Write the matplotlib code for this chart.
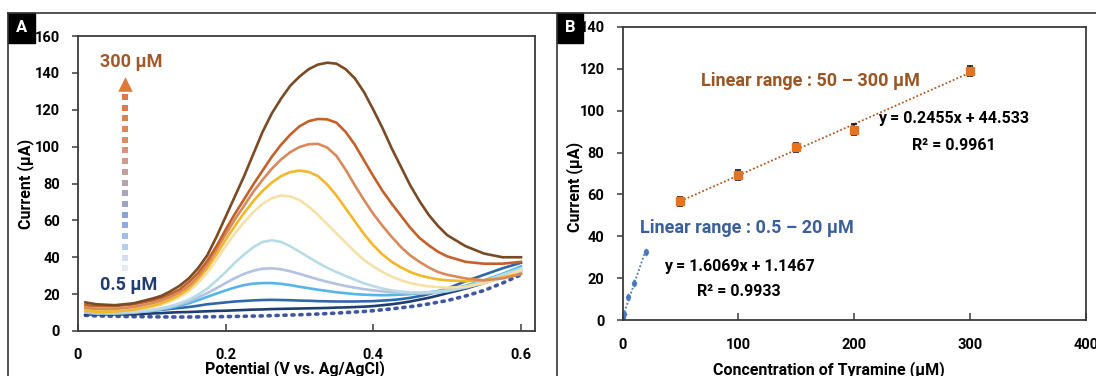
import matplotlib.pyplot as plt
from matplotlib.patches import Rectangle
from matplotlib.lines import Line2D

# ---- panel A: DPV curves (potential in V, current in uA) ----
potential = [0.01, 0.025, 0.05, 0.075, 0.1, 0.1125, 0.125, 0.1375, 0.15, 0.1625, 0.175,
             0.1875, 0.2, 0.2125, 0.225, 0.2375, 0.25, 0.2625, 0.275, 0.2875, 0.3, 0.3125,
             0.325, 0.3375, 0.35, 0.3625, 0.375, 0.3875, 0.4, 0.4125, 0.425, 0.4375, 0.45,
             0.4625, 0.475, 0.4875, 0.5, 0.525, 0.55, 0.575, 0.6]

blank = [8.5, 8.2, 8, 7.8, 7.7, 7.65, 7.6, 7.6, 7.6, 7.65, 7.7, 7.75, 7.8, 7.9, 8, 8.1, 8.2,
         8.35, 8.5, 8.65, 8.8, 9, 9.2, 9.45, 9.7, 10, 10.3, 10.6, 11, 11.5, 12, 12.6, 13.2,
         13.9, 14.7, 15.6, 16.5, 19, 22, 26, 30.5]
c_05 = [9, 9, 9, 9, 9.5, 9.7, 10, 10.2, 10.3, 10.5, 10.7, 10.9, 11, 11.2, 11.4, 11.6, 11.7,
        11.9, 12, 12.1, 12.2, 12.3, 12.4, 12.5, 12.7, 12.8, 13, 13.2, 13.5, 14, 14.5, 15.2,
        16, 17, 18, 19.2, 20.5, 23, 26, 29.5, 33]
c_1 = [10.5, 10.5, 10.5, 10.5, 11, 11.5, 12, 12.5, 13, 13.7, 14.5, 15, 15.5, 16, 16.3, 16.6,
       16.8, 16.9, 16.8, 16.7, 16.5, 16.4, 16.2, 16.1, 16, 16, 16, 16.1, 16.2, 16.5, 16.8,
       17.3, 18, 18.9, 20, 21.4, 23, 27, 30.5, 34, 37]
c_5 = [10, 9.5, 9.5, 10, 11, 11.7, 12.5, 13.7, 15, 16.7, 18.5, 20.3, 22, 23.6, 24.9, 25.7, 26,
       26, 25.6, 24.9, 24, 23.2, 22.4, 21.7, 21, 20.5, 20, 19.7, 19.5, 19.4, 19.5, 19.7, 20,
       20.4, 21, 21.7, 22.5, 24.5, 27.5, 31, 35]
c_10 = [10, 9.5, 9.5, 10, 11, 11.9, 13, 14.4, 16, 18.2, 20.5, 23.2, 26, 28.7, 31, 32.7, 33.8,
        34, 33.5, 32.4, 31, 29.5, 28, 26.7, 25.5, 24.4, 23.5, 22.7, 22, 21.5, 21, 20.7, 20.5,
        20.4, 20.5, 20.9, 21.5, 23.5, 26, 29, 32]
c_20 = [11, 10.5, 10, 10.5, 11.5, 12.3, 13.5, 15, 17, 19.7, 23, 27.3, 32, 37, 41.5, 45.5, 48.3,
        49.2, 48.3, 46, 43, 40, 37, 34.3, 32, 29.8, 27.8, 25.8, 24.3, 23, 22, 21.4, 21, 20.9,
        21, 21.4, 22, 24, 27, 30.5, 34]
c_50 = [12, 11.5, 11, 11.5, 13, 14.3, 16, 18.3, 21.5, 26, 31.5, 38.5, 46, 53, 59, 64.5, 69, 72,
        73.5, 73, 71, 67.5, 63, 58, 53, 48, 43, 38.5, 35, 32, 29.5, 27.5, 26, 25, 24.2, 23.8,
        23.5, 24, 26, 29, 33]
c_100 = [11, 10.5, 10.5, 11.5, 13.5, 15, 17, 19.5, 23, 28, 34, 41.5, 49.5, 57, 64, 70.5, 76,
         80.5, 84, 86.2, 87, 86.3, 84, 79.5, 73.5, 66.5, 59.5, 52.5, 46.5, 41.5, 37.5, 34.5,
         32, 30.2, 29, 28, 27.5, 27, 27.5, 29, 31]
c_150 = [12.5, 12, 12, 13, 15, 16.5, 18.5, 21, 24.5, 29.5, 36, 44, 52.5, 60.5, 68, 75.5, 82,
         88, 93, 97, 99.8, 101.3, 101.5, 99.5, 95, 87.5, 79, 71, 63.5, 57, 51, 45.5, 41, 37.5,
         34.5, 32, 30.5, 28.5, 27.5, 28.5, 31]
c_200 = [14, 13.5, 13.5, 14.5, 16.5, 18, 20, 22.5, 26.5, 31.5, 38, 46, 55, 63.5, 71.5, 79.5,
         87, 94.5, 101, 106.5, 111, 113.8, 115, 114.8, 113, 108, 101, 92.5, 84, 76, 69, 62.5,
         56, 50.5, 46.5, 43, 40.5, 37.5, 36.5, 36.5, 37.5]
c_300 = [15.5, 14.5, 14, 15, 17.5, 19, 21.5, 24.5, 28.5, 34, 41, 51, 62, 73, 84, 96, 108, 118,
         126, 133, 138, 142, 144.5, 145.5, 145, 142, 137, 129.5, 120, 110, 99, 89, 79, 70.5,
         63, 57, 52, 46, 42, 40, 40]

curves = [c_05, c_1, c_5, c_10, c_20, c_50, c_100, c_150, c_200, c_300]
curve_colors = ['#1f3e70', '#2f68a8', '#55b5ea', '#b3c2e2', '#b8dce6',
                '#f7e0a8', '#f2b82a', '#d88a5c', '#c4612a', '#7a4a24']

# ---- panel B: calibration ----
low_conc = [0.5, 1, 5, 10, 20]
low_curr = [1.5, 3, 10.8, 17.5, 32.6]
low_err = [0.6, 0.6, 0.8, 0.8, 0.8]
high_conc = [50, 100, 150, 200, 300]
high_curr = [56.8, 69.5, 82.5, 91, 119]
high_err = [2.2, 2.4, 2.3, 2.6, 2.6]
low_fit = (1.6069, 1.1467)
high_fit = (0.2455, 44.533)

plt.rcParams['font.family'] = ['Roboto', 'DejaVu Sans']
plt.rcParams['font.weight'] = 'bold'

W, H = 1096, 376
fig = plt.figure(figsize=(W / 100, H / 100), dpi=100)


def box(l, t, r, b):
    return [l / W, (H - b) / H, (r - l) / W, (b - t) / H]


def style(ax):
    for s in ax.spines.values():
        s.set_color('#3a3a3a')
        s.set_linewidth(1.3)
    ax.tick_params(axis='x', direction='in', length=5, width=1.1, color='#3a3a3a',
                   labelsize=10.5, pad=12)
    ax.tick_params(axis='y', direction='out', length=4, width=1.1, color='#3a3a3a',
                   labelsize=10.5, pad=9)


# frames and panel letters
fig.add_artist(Line2D([8 / W, 1], [1 - 13 / H] * 2, color='#333333', lw=1.2))
for x0 in (8, 557):
    fig.add_artist(Line2D([x0 / W] * 2, [0, 1 - 13 / H], color='#333333', lw=1.2))
for x0, x1, letter in ((8, 35, 'A'), (557, 583, 'B')):
    fig.add_artist(Rectangle((x0 / W, 1 - 43 / H), (x1 - x0) / W, 30 / H, color='black'))
    fig.text((x0 + x1) / 2 / W, 1 - 28 / H, letter, color='white', fontsize=12,
             ha='center', va='center', fontweight='bold')

# ---- panel A ----
ax = fig.add_axes(box(78, 36, 535, 331))
ax.plot(potential, blank, color='#3f57a0', lw=2.6, ls=(0, (0.6, 1.6)),
        dash_capstyle='round')
for y, c in zip(curves, curve_colors):
    ax.plot(potential, y, color=c, lw=1.9)
ax.set_xlim(0, 0.619)
ax.set_ylim(0, 160)
ax.set_xticks([0, 0.2, 0.4, 0.6])
ax.set_xticklabels(['0', '0.2', '0.4', '0.6'])
ax.set_yticks(range(0, 161, 20))
style(ax)
ax.set_xlabel('Potential (V vs. Ag/AgCl)', fontsize=11.5, fontweight='bold')
ax.xaxis.set_label_coords(0.475, -0.098)
ax.set_ylabel('Current (μA)', fontsize=11.5, fontweight='bold')
ax.yaxis.set_label_coords(-0.097, 0.5)

# concentration arrow
arrow_cols = ['#e6eaf4', '#d4dff0', '#b8cdec', '#a3bce6', '#8fabdd', '#8ea2d2', '#9aa3c6',
              '#a8a4bb', '#b6a2ac', '#c49e9c', '#cf9a8a', '#d89479', '#de8c68', '#e1855a',
              '#e27f4e', '#e27a45', '#e27840']
n = len(arrow_cols)
for i, c in enumerate(arrow_cols):
    ax.scatter(0.063, 34 + i * (127 - 34) / (n - 1), marker='s', s=14, color=c,
               linewidths=0, zorder=3)
ax.scatter(0.063, 134, marker='^', s=110, color='#e0783a', linewidths=0, zorder=3)
ax.text(0.0725, 146, '300 μM', color='#a0592b', fontsize=13, fontweight='bold',
        ha='center', va='center')
ax.text(0.069, 25, '0.5 μM', color='#1f3b72', fontsize=13, fontweight='bold',
        ha='center', va='center')

# ---- panel B ----
bx = fig.add_axes(box(622.5, 27, 1086, 320))
bx.plot([low_conc[0], low_conc[-1]],
        [low_fit[0] * low_conc[0] + low_fit[1], low_fit[0] * low_conc[-1] + low_fit[1]],
        color='#4a78bd', lw=1.3, ls=(0, (1, 1.2)))
bx.plot([high_conc[0], high_conc[-1]],
        [high_fit[0] * high_conc[0] + high_fit[1], high_fit[0] * high_conc[-1] + high_fit[1]],
        color='#b05a22', lw=1.3, ls=(0, (1, 1.2)))
bx.errorbar(low_conc, low_curr, yerr=low_err, fmt='d', ms=3.5, color='#4a78bd',
            ecolor='#4a78bd', elinewidth=0.8, capsize=1.5)
bx.errorbar(high_conc, high_curr, yerr=high_err, fmt='s', ms=5.5, color='#e8731e',
            ecolor='black', elinewidth=1.1, capsize=2.5, capthick=1.1, zorder=3)
bx.set_xlim(0, 400)
bx.set_ylim(0, 140)
bx.set_xticks(range(0, 401, 100))
bx.set_yticks(range(0, 141, 20))
style(bx)
bx.tick_params(axis='x', pad=13)
bx.set_xlabel('Concentration of Tyramine (μM)', fontsize=11.5, fontweight='bold')
bx.xaxis.set_label_coords(0.4455, -0.14)
bx.set_ylabel('Current (μA)', fontsize=11.5, fontweight='bold')
bx.yaxis.set_label_coords(-0.085, 0.455)

bx.text(162, 114.2, 'Linear range : 50 – 300 μM', color='#9b5523', fontsize=13,
        fontweight='bold', ha='center', va='center')
bx.text(286, 96.5, 'y = 0.2455x + 44.533', color='black', fontsize=11.5,
        fontweight='bold', ha='center', va='center')
bx.text(286, 83.6, 'R² = 0.9961', color='black', fontsize=11.5,
        fontweight='bold', ha='center', va='center')
bx.text(107, 44, 'Linear range : 0.5 – 20 μM', color='#3a5f9a', fontsize=13,
        fontweight='bold', ha='center', va='center')
bx.text(100.5, 25.8, 'y = 1.6069x + 1.1467', color='black', fontsize=11.5,
        fontweight='bold', ha='center', va='center')
bx.text(100.5, 13.4, 'R² = 0.9933', color='black', fontsize=11.5,
        fontweight='bold', ha='center', va='center')

fig.savefig('out.png', dpi=100)
